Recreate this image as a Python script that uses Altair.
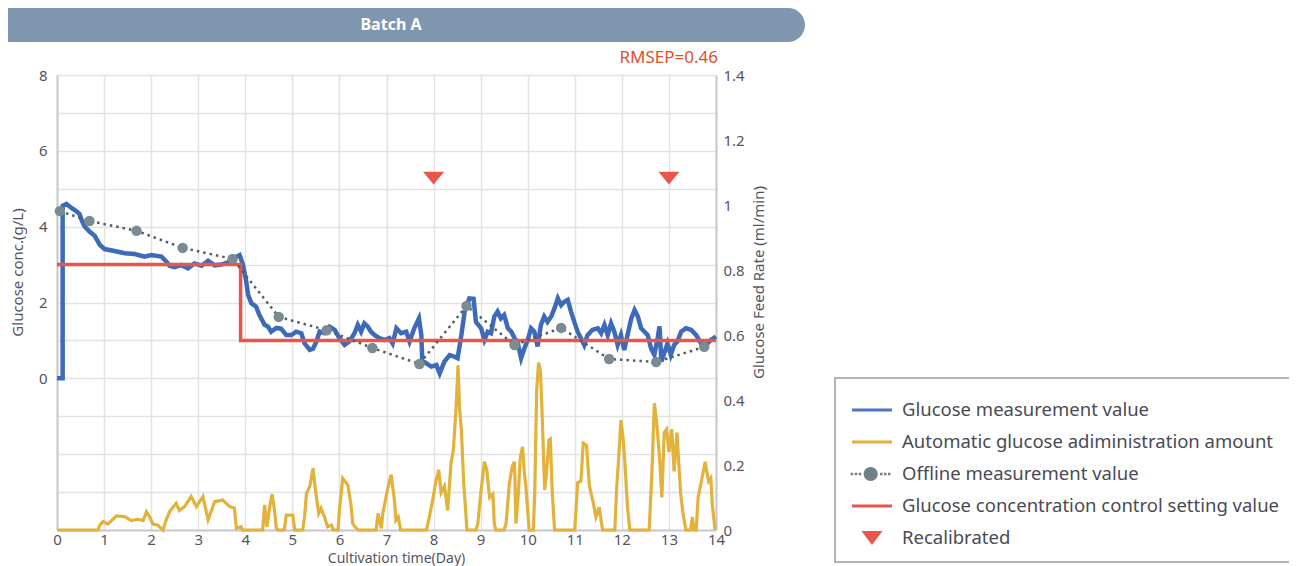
import altair as alt
import pandas as pd

# ---------------- data ----------------
glucose_day = [0, 0.12, 0.12, 0.2, 0.3, 0.4, 0.48, 0.53, 0.59, 0.69, 0.8, 0.91, 1.01, 1.22, 1.44,
               1.65, 1.86, 2.0, 2.22, 2.32, 2.39, 2.5, 2.64, 2.78, 2.92, 3.07, 3.21, 3.35, 3.49,
               3.63, 3.77, 3.88, 3.95, 4.02, 4.06, 4.13, 4.23, 4.3, 4.41, 4.48, 4.55, 4.66, 4.76,
               4.87, 4.98, 5.08, 5.19, 5.26, 5.37, 5.44, 5.51, 5.58, 5.68, 5.79, 5.9, 6.0, 6.11,
               6.21, 6.32, 6.39, 6.46, 6.53, 6.6, 6.67, 6.75, 6.85, 6.96, 7.06, 7.13, 7.21, 7.31,
               7.42, 7.49, 7.59, 7.69, 7.74, 7.76, 7.84, 7.95, 8.06, 8.13, 8.23, 8.34, 8.44, 8.51,
               8.59, 8.66, 8.76, 8.85, 8.9, 9.01, 9.08, 9.15, 9.22, 9.29, 9.36, 9.43, 9.5, 9.58,
               9.65, 9.72, 9.79, 9.86, 9.93, 10.0, 10.07, 10.14, 10.21, 10.28, 10.35, 10.42, 10.5,
               10.57, 10.64, 10.71, 10.78, 10.85, 10.92, 10.99, 11.06, 11.13, 11.2, 11.27, 11.38,
               11.49, 11.56, 11.63, 11.7, 11.77, 11.84, 11.91, 11.98, 12.05, 12.12, 12.2, 12.27,
               12.34, 12.41, 12.48, 12.55, 12.62, 12.69, 12.76, 12.8, 12.84, 12.91, 12.97, 13.04,
               13.11, 13.18, 13.26, 13.36, 13.47, 13.58, 13.68, 13.79, 13.89, 14.0]
glucose_val = [0, 0, 4.55, 4.6, 4.5, 4.42, 4.33, 4.15, 4.0, 3.87, 3.76, 3.52, 3.41, 3.36, 3.3,
               3.28, 3.21, 3.25, 3.21, 3.08, 2.97, 2.93, 2.99, 2.9, 3.03, 2.97, 3.1, 2.98, 3.0,
               3.06, 3.18, 3.25, 3.0, 2.55, 2.2, 1.98, 1.89, 1.67, 1.41, 1.37, 1.23, 1.33, 1.31,
               1.14, 1.14, 1.23, 1.19, 0.92, 0.75, 0.78, 0.97, 1.23, 1.19, 1.36, 1.28, 1.06, 0.88,
               0.97, 1.19, 1.41, 1.23, 1.45, 1.37, 1.23, 1.14, 1.06, 1.01, 1.06, 0.92, 1.32, 1.19,
               1.23, 0.97, 1.32, 1.58, 1.14, 0.48, 0.4, 0.31, 0.35, 0.13, 0.44, 0.61, 0.57, 0.53,
               1.14, 1.76, 2.11, 2.1, 1.49, 1.32, 1.01, 1.23, 1.19, 1.63, 1.76, 1.58, 1.67, 1.32,
               1.23, 1.06, 0.92, 0.53, 0.79, 1.01, 1.32, 1.23, 0.84, 1.41, 1.63, 1.49, 1.63,
               1.85, 2.11, 1.93, 2.02, 2.07, 1.76, 1.49, 1.23, 1.06, 0.88, 1.14, 1.28,
               1.32, 1.19, 1.41, 1.14, 1.45, 1.23, 0.88, 1.14, 0.75, 1.14, 1.58, 1.8,
               1.63, 1.32, 1.23, 1.14, 0.79, 0.62, 1.06, 1.37, 0.44, 0.7, 0.92, 0.62,
               0.88, 0.97, 1.23, 1.32, 1.28, 1.14, 0.92, 0.88, 1.01, 1.1]

feed_day = [0, 0.87, 0.91, 0.98, 1.08, 1.26, 1.44, 1.58, 1.72, 1.83, 1.9, 1.97, 2.04, 2.14, 2.25,
            2.32, 2.39, 2.53, 2.6, 2.71, 2.85, 2.96, 3.1, 3.21, 3.35, 3.52, 3.67, 3.77, 3.81,
            3.91, 3.94, 4.37, 4.41, 4.46, 4.52, 4.57, 4.62, 4.66, 4.7, 4.83, 4.87, 5.01, 5.05,
            5.22, 5.26, 5.3, 5.37, 5.44, 5.49, 5.56, 5.61, 5.68, 5.75, 5.83, 5.87, 5.97, 6.0,
            6.07, 6.18, 6.25, 6.28, 6.36, 6.4, 6.78, 6.82, 6.89, 6.92, 7.03, 7.1, 7.17, 7.2,
            7.25, 7.3, 7.85, 7.91, 7.98, 8.05, 8.11, 8.16, 8.23, 8.3, 8.37, 8.42, 8.48, 8.52,
            8.55, 8.59, 8.64, 8.71, 8.9, 8.94, 9.01, 9.08, 9.13, 9.19, 9.26, 9.29, 9.32, 9.5,
            9.54, 9.61, 9.67, 9.72, 9.75, 9.8, 9.84, 9.89, 9.93, 9.96, 10.03, 10.12, 10.15,
            10.19, 10.23, 10.27, 10.3, 10.33, 10.36, 10.4, 10.45, 10.48, 10.52, 10.57, 11.0,
            11.06, 11.13, 11.18, 11.25, 11.31, 11.38, 11.45, 11.52, 11.59, 11.85, 11.89, 11.93,
            11.98, 12.03, 12.07, 12.12, 12.17, 12.58, 12.64, 12.69, 12.74, 12.8, 12.85, 12.9,
            12.95, 13.0, 13.06, 13.11, 13.17, 13.22, 13.25, 13.3, 13.36, 13.46, 13.5, 13.53,
            13.58, 13.62, 13.69, 13.77, 13.84, 13.89, 13.92, 13.98]
feed_rate = [0, 0, 0.015, 0.026, 0.018, 0.043, 0.041, 0.029, 0.033, 0.029, 0.056, 0.04, 0.018,
             0.015, 0, 0.031, 0.056, 0.082, 0.06, 0.072, 0.103, 0.072, 0.103, 0.031, 0.087,
             0.092, 0.072, 0.067, 0.005, 0.01, 0, 0, 0.077, 0.01, 0.072, 0.11, 0.062, 0.005, 0,
             0, 0.046, 0.046, 0, 0, 0.041, 0.113, 0.133, 0.19, 0.123, 0.051, 0.067, 0.041, 0.01,
             0.015, 0, 0, 0.062, 0.159, 0.138, 0.072, 0.02, 0.005, 0, 0, 0.051, 0.005, 0.05,
             0.13, 0.17, 0.09, 0.03, 0.04, 0, 0, 0.04, 0.092, 0.15, 0.185, 0.115, 0.135, 0.06,
             0.205, 0.245, 0.38, 0.507, 0.38, 0.31, 0.145, 0, 0, 0.02, 0.123, 0.21, 0.185, 0.1,
             0.11, 0.02, 0, 0, 0.02, 0.143, 0.195, 0.21, 0.02, 0.11, 0.22, 0.256, 0.175, 0.135,
             0, 0, 0.12, 0.43, 0.515, 0.49, 0.38, 0.256, 0.123, 0.175, 0.277, 0.28, 0.12, 0, 0,
             0.145, 0.15, 0.267, 0.26, 0.135, 0.092, 0.04, 0.07, 0, 0, 0.13, 0.215, 0.338,
             0.277, 0.195, 0.07, 0, 0, 0.18, 0.39, 0.33, 0.225, 0.1, 0.3, 0.31, 0.24, 0.31,
             0.18, 0.3, 0.18, 0.11, 0.05, 0, 0, 0.04, 0, 0, 0.1, 0.15, 0.21, 0.15, 0.16, 0.08, 0]

offline_day = [0.06, 0.69, 1.69, 2.67, 3.73, 4.71, 5.73, 6.7, 7.7, 8.7, 9.72, 10.71, 11.73, 12.73, 13.75]
offline_val = [4.41, 4.15, 3.89, 3.44, 3.15, 1.62, 1.27, 0.8, 0.38, 1.91, 0.88, 1.33, 0.51, 0.43, 0.83]

setpoint_day = [0, 3.9, 3.9, 14]
setpoint_val = [3, 3, 1, 1]

recal_day = [8, 13]
recal_val = [5.28, 5.28]

x_ticks = list(range(0, 15))
left_ticks = list(range(-4, 9))
right_ticks = [0, 0.2, 0.4, 0.6, 0.8, 1.0, 1.2, 1.4]

batch_title = "Batch A"
rmsep_text = "RMSEP=0.46"

legend_names = ["Glucose measurement value",
                "Automatic glucose adiministration amount",
                "Offline measurement value",
                "Glucose concentration control setting value",
                "Recalibrated"]
legend_colors = ["#4f75c2", "#e2b23a", "#6f8088", "#e8554a", "#e8554a"]
LINE = "M-0.7,-0.15L3.3,-0.15L3.3,0.15L-0.7,0.15Z"
DOTS_CIRCLE = ("M-0.83,-0.125h0.25v0.25h-0.25Z"
               "M-0.43,-0.125h0.25v0.25h-0.25Z"
               "M-0.03,-0.125h0.25v0.25h-0.25Z"
               "M2.1,-0.125h0.25v0.25h-0.25Z"
               "M2.5,-0.125h0.25v0.25h-0.25Z"
               "M2.9,-0.125h0.25v0.25h-0.25Z"
               "M0.47,0A0.7,0.7 0 1,0 1.87,0A0.7,0.7 0 1,0 0.47,0Z")
TRI = "M0.25,-0.7L2.35,-0.7L1.3,0.7Z"
legend_shapes = [LINE, LINE, DOTS_CIRCLE, LINE, TRI]

# ---------------- tables ----------------
glucose_df = pd.DataFrame({"day": glucose_day, "val": glucose_val, "i": range(len(glucose_day))})
feed_df = pd.DataFrame({"day": feed_day, "rate": feed_rate, "i": range(len(feed_day))})
offline_df = pd.DataFrame({"day": offline_day, "val": offline_val})
set_df = pd.DataFrame({"day": setpoint_day, "val": setpoint_val, "i": range(len(setpoint_day))})
recal_df = pd.DataFrame({"day": recal_day, "val": recal_val})
legend_df = pd.DataFrame({"series": legend_names})
title_df = pd.DataFrame({"t": [batch_title]})
rmsep_df = pd.DataFrame({"t": [rmsep_text]})

W, H = 659, 455
FONT = "Noto Sans"
TXT = "#55555f"

x_enc = alt.X("day:Q",
              scale=alt.Scale(domain=[0, 14], nice=False, zero=False),
              axis=alt.Axis(values=x_ticks, title="Cultivation time(Day)", grid=True,
                            labelFlush=False, labelPadding=2, titleFontSize=14,
                            titleX=339, titleY=28, titleBaseline="middle"))

y_left = alt.Y("val:Q",
               scale=alt.Scale(domain=[-4, 8], nice=False, zero=False),
               axis=alt.Axis(orient="left", values=left_ticks, grid=True, labelFlush=False,
                             labelExpr="datum.value >= 0 && datum.value % 2 == 0 ? datum.label : ''",
                             title="Glucose conc.(g/L)", labelPadding=10,
                             titleAngle=270, titleX=-40, titleY=197,
                             titleAlign="center", titleBaseline="middle"))

y_right = alt.Y("rate:Q",
                scale=alt.Scale(domain=[0, 1.4], nice=False, zero=False),
                axis=alt.Axis(orient="right", values=right_ticks, grid=False, format="~g",
                              labelFlush=False,
                              title="Glucose Feed Rate (ml/min)", labelPadding=7,
                              titleAngle=270, titleX=42, titleY=207,
                              titleAlign="center", titleBaseline="middle"))

feed = alt.Chart(feed_df).mark_line(color="#e2b23a", strokeWidth=3.2).encode(
    x=x_enc, y=y_right, order="i:Q")

glucose = alt.Chart(glucose_df).mark_line(color="#3d6bb9", strokeWidth=4.5).encode(
    x=x_enc, y=y_left, order="i:Q")

setpoint = alt.Chart(set_df).mark_line(color="#e8554a", strokeWidth=3.5).encode(
    x=x_enc, y=y_left, order="i:Q")

offline_line = alt.Chart(offline_df).mark_line(color="#4f5f68", strokeWidth=2.5,
                                               strokeDash=[2.5, 4]).encode(x=x_enc, y=y_left)
offline_pts = alt.Chart(offline_df).mark_point(filled=True, color="#7a8b93", size=110,
                                               opacity=1).encode(x=x_enc, y=y_left)

recal = alt.Chart(recal_df).mark_point(filled=True, color="#e8554a", size=441, opacity=1,
                                       shape="M-1,-0.6L1,-0.6L0,0.6Z").encode(x=x_enc, y=y_left)

left_layer = alt.layer(glucose, setpoint, offline_line, offline_pts, recal)

banner = alt.Chart(title_df).mark_rect(color="#7f97ae", cornerRadius=17).encode(
    x=alt.value(-70), x2=alt.value(748), y=alt.value(-67), y2=alt.value(-33))
banner_text = alt.Chart(title_df).mark_text(color="white", font=FONT, fontSize=16,
                                            fontWeight="bold", baseline="middle").encode(
    x=alt.value(334), y=alt.value(-50), text="t:N")
rmsep = alt.Chart(rmsep_df).mark_text(color="#e0502a", font=FONT, fontSize=17, align="right",
                                      baseline="middle").encode(
    x=alt.value(661), y=alt.value(-17), text="t:N")

leg = alt.Legend(title=" ", titleFontSize=2, titlePadding=6,
                 orient="none", legendX=778, legendY=303, padding=14,
                 strokeColor="#aab4bd", fillColor="white", rowPadding=12,
                 labelFontSize=18.5, labelColor="#4a4a55", labelFont=FONT, labelLimit=600,
                 symbolSize=400, symbolStrokeWidth=0, labelOffset=33, symbolOpacity=1)
legend_layer = alt.Chart(legend_df).mark_point(filled=True, opacity=0).encode(
    color=alt.Color("series:N", scale=alt.Scale(domain=legend_names, range=legend_colors), legend=leg),
    shape=alt.Shape("series:N", scale=alt.Scale(domain=legend_names, range=legend_shapes), legend=leg),
)

chart = alt.layer(feed, left_layer, banner, banner_text, rmsep, legend_layer).resolve_scale(
    y="independent"
).properties(
    width=W, height=H,
    padding={"left": 49, "top": 67, "right": 573, "bottom": 36},
    autosize=alt.AutoSizeParams(type="none"),
).configure_view(stroke=None).configure_axis(
    labelFont=FONT, titleFont=FONT, labelFontSize=15, titleFontSize=15,
    labelColor=TXT, titleColor=TXT, titleFontWeight="normal",
    ticks=False, domainColor="#c9c9c9", domainWidth=2,
    gridColor="#e2e2e2", gridWidth=1.5,
).configure_legend(strokeWidth=2)

chart.save("out.html", embed_options={"renderer": "svg", "actions": False})
